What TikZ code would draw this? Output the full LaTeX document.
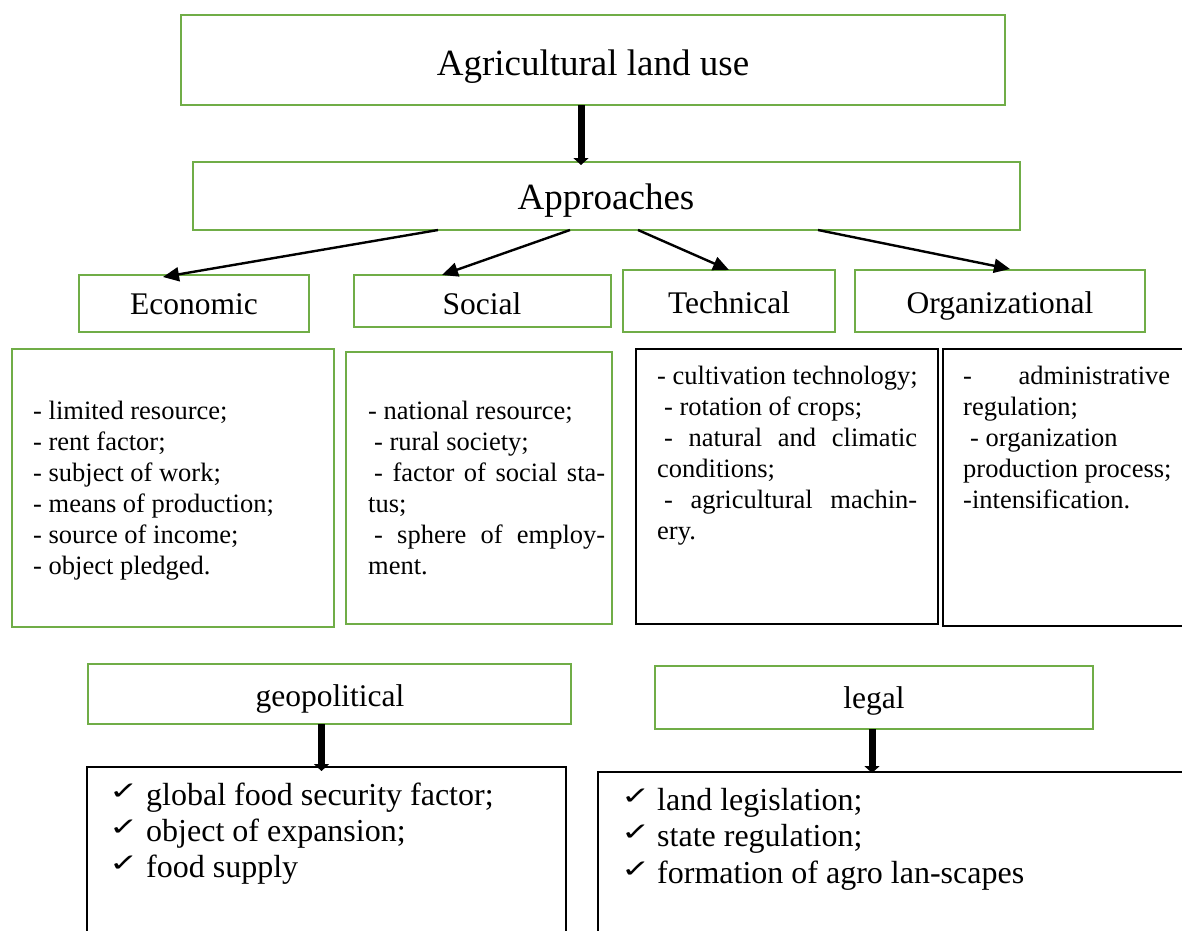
\documentclass[tikz,border=0pt]{standalone}
\usepackage{fontspec}
\setmainfont{Liberation Serif}
\newfontfamily\symf{DejaVu Sans}
\usetikzlibrary{arrows.meta,calc}
\definecolor{gr}{RGB}{112,173,71}
\newcommand{\chk}{{\symf\fontsize{26}{26}\selectfont\scalebox{1.35}[0.95]{✓}}}
\tikzset{
  x=1pt, y=-1pt,
  gbox/.style={draw=gr, line width=2.6pt, inner sep=0pt, outer sep=0pt, anchor=north west},
  kbox/.style={draw=black, line width=2.8pt, inner sep=0pt, outer sep=0pt, anchor=north west},
  tbox/.style={draw=black, line width=1.4pt, inner sep=0pt, outer sep=0pt, anchor=north west},
  arr/.style={line width=2.4pt, -{Triangle[length=16pt,width=14pt]}},
  bigarr/.style={line width=7pt, -{Triangle[length=7pt,width=15pt]}},
  big/.style={inner sep=0pt, anchor=base, font=\fontsize{37}{44}\selectfont},
  cat/.style={inner sep=0pt, anchor=base, font=\fontsize{31.5}{38}\selectfont},
  body/.style={inner sep=0pt, anchor=base west, font=\fontsize{26.5}{31}\selectfont},
  lst/.style={inner sep=0pt, anchor=base west, font=\fontsize{32}{36}\selectfont},
  ck/.style={inner sep=0pt, anchor=base west},
}
\begin{document}
\begin{tikzpicture}
\useasboundingbox (0,0) rectangle (1182,930);
\clip (0,0) rectangle (1182,930);

% boxes
\node[gbox, minimum width=824pt, minimum height=90pt] (title) at (181,15) {};
\node[gbox, minimum width=827pt, minimum height=68pt] (appr) at (193,162) {};
\node[gbox, minimum width=230pt, minimum height=57pt] (econ) at (79,275) {};
\node[gbox, minimum width=257pt, minimum height=52pt] (soc) at (354,275) {};
\node[gbox, minimum width=212pt, minimum height=62pt] (tech) at (623,270) {};
\node[gbox, minimum width=290pt, minimum height=62pt] (org) at (855,270) {};
\node[gbox, minimum width=322pt, minimum height=278pt] (econc) at (12,349) {};
\node[gbox, minimum width=266pt, minimum height=272pt] (socc) at (346,352) {};
\node[kbox, minimum width=302pt, minimum height=275pt] (techc) at (636,349) {};
\node[tbox, minimum width=300pt, minimum height=277pt] (orgc) at (943,349) {};
\node[gbox, minimum width=483pt, minimum height=60pt] (geo) at (88,664) {};
\node[kbox, minimum width=479pt, minimum height=200pt] (geoc) at (87,767) {};
\node[gbox, minimum width=438pt, minimum height=63pt] (legal) at (655,666) {};
\node[tbox, minimum width=650pt, minimum height=200pt] (legc) at (598,772) {};

% labels
\node[big] (tt) at (593,75) {Agricultural land use};
\node[big] (at) at (606,209) {Approaches};
\node[cat] (et) at (194,314) {Economic};
\node[cat] (st) at (482,314) {Social};
\node[cat] (tct) at (729,313) {Technical};
\node[cat] (ot) at (1000,313) {Organizational};
\node[cat] (gt) at (330,706) {geopolitical};
\node[cat] (lt) at (874,708) {legal};

% economic list
\node[body] (e1) at (33,419) {- limited resource;};
\node[body] (e2) at (33,450) {- rent factor;};
\node[body] (e3) at (33,481) {- subject of work;};
\node[body] (e4) at (33,512) {- means of production;};
\node[body] (e5) at (33,543) {- source of income;};
\node[body] (e6) at (33,574) {- object pledged.};

% social list
\node[body] (s1) at (368,419) {- national resource;};
\node[body] (s2) at (374,450) {- rural society;};
\node[body] (s3) at (374,481) {\hbox to 231pt{-\hfill factor\hfill of\hfill social\hfill sta-}};
\node[body] (s4) at (368,512) {tus;};
\node[body] (s5) at (374,543) {\hbox to 231pt{-\hfill sphere\hfill of\hfill employ-}};
\node[body] (s6) at (368,574) {ment.};

% technical list
\node[body] (t1) at (657,384) {- cultivation technology;};
\node[body] (t2) at (664,415) {- rotation of crops;};
\node[body] (t3) at (664,446) {\hbox to 253pt{-\hfill natural\hfill and\hfill climatic}};
\node[body] (t4) at (657,477) {conditions;};
\node[body] (t5) at (664,508) {\hbox to 253pt{-\hfill agricultural\hfill machin-}};
\node[body] (t6) at (657,539) {ery.};

% organizational list
\node[body] (o1) at (963,384) {\hbox to 207pt{-\hfill administrative}};
\node[body] (o2) at (963,415) {regulation;};
\node[body] (o3) at (970,446) {- organization};
\node[body] (o4) at (963,477) {production process;};
\node[body] (o5) at (963,508) {-intensification.};

% geopolitical list
\node[ck] (gc1) at (109,799) {\chk};
\node[ck] (gc2) at (109,835) {\chk};
\node[ck] (gc3) at (109,871) {\chk};
\node[lst] (g1) at (146,805) {global food security factor;};
\node[lst] (g2) at (146,841) {object of expansion;};
\node[lst] (g3) at (146,877) {food supply};

% legal list
\node[ck] (lc1) at (621,804) {\chk};
\node[ck] (lc2) at (621,840) {\chk};
\node[ck] (lc3) at (621,877) {\chk};
\node[lst] (l1) at (657,810) {land legislation;};
\node[lst] (l2) at (657,846) {state regulation;};
\node[lst] (l3) at (657,883) {formation of agro lan-scapes};

% connectors
\draw[bigarr] ($(title.south)+(-12,0)$) -- ($(title.south |- appr.north)+(-12,3)$);
\draw[arr] ($(appr.south west)+(245,0)$) -- ($(econ.north west)+(84,2)$);
\draw[arr] ($(appr.south west)+(377,0)$) -- ($(soc.north west)+(88,0)$);
\draw[arr] ($(appr.south west)+(445,0)$) -- (tech.north);
\draw[arr] ($(appr.south west)+(625,0)$) -- ($(org.north)+(10,-1)$);
\draw[bigarr] ($(geo.south)+(-8,0)$) -- ($(geo.south |- geoc.north)+(-8,4)$);
\draw[bigarr] ($(legal.south)+(-2,0)$) -- ($(legal.south |- legc.north)+(-2,1)$);
\end{tikzpicture}
\end{document}
